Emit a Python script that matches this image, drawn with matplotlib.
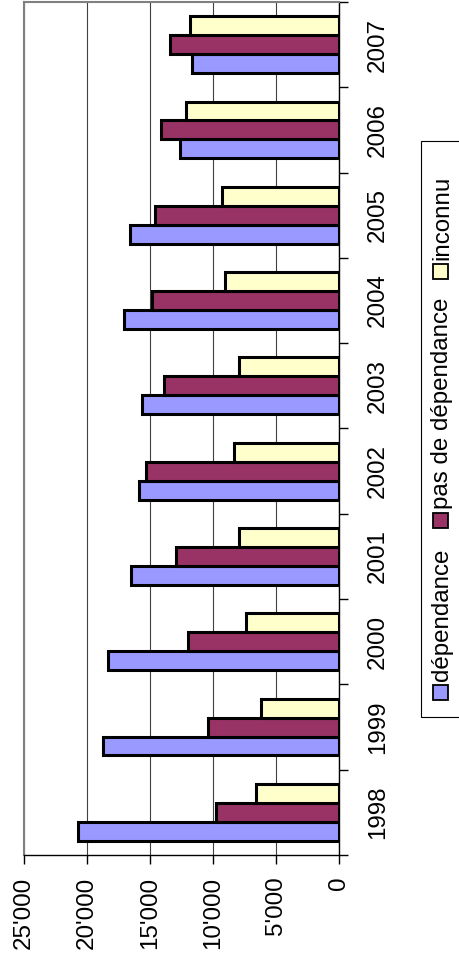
import matplotlib
matplotlib.use("Agg")
import matplotlib.pyplot as plt
from matplotlib.patches import Rectangle
import numpy as np

# --------------------------------------------------------------------------- #
# Data
# --------------------------------------------------------------------------- #
years = ["1998", "1999", "2000", "2001", "2002", "2003", "2004", "2005", "2006", "2007"]
dependance = [20700, 18700, 18300, 16500, 15850, 15600, 17050, 16550, 12650, 11650]
pas_de_dependance = [9750, 10400, 12000, 12900, 15300, 13900, 14850, 14600, 14150, 13450]
inconnu = [6600, 6200, 7350, 7950, 8350, 7900, 9050, 9250, 12150, 11850]
series_names = ["dépendance", "pas de dépendance", "inconnu"]
series_colors = ["#9999FF", "#993366", "#FFFFCC"]

W, H = 459, 966
FONT = "Liberation Sans"
FS = 17.4

fig = plt.figure(figsize=(W / 100, H / 100), dpi=100)
plt.rcParams["font.family"] = [FONT, "DejaVu Sans"]

# plot area in pixels: left 24, right 339, top 2, bottom 855
ax = fig.add_axes([24 / W, 1 - 855 / H, (339 - 24) / W, (855 - 2) / H])

y = np.arange(len(years))
bh = 1 / 4.5
for k, (vals, col) in enumerate(zip([dependance, pas_de_dependance, inconnu], series_colors)):
    ax.barh(y + (k - 1) * bh, vals, height=bh, color=col, edgecolor="black",
            linewidth=2.2, zorder=3)

ax.set_xlim(25000, 0)
ax.set_ylim(-0.5, len(years) - 0.5)

ax.set_xticks(np.arange(0, 25001, 5000))
ax.set_xticklabels([f"{v:,}".replace(",", "'") for v in range(0, 25001, 5000)],
                   rotation=90, fontsize=FS, family=FONT)
ax.grid(axis="x", color="#404040", linewidth=0.8, zorder=0)

ax.yaxis.tick_right()
ax.set_yticks(np.arange(len(years) + 1) - 0.5, minor=False)
ax.set_yticklabels([])
ax.set_yticks(y, minor=True)
ax.set_yticklabels(years, minor=True, rotation=90, va="center", fontsize=FS, family=FONT)
ax.tick_params(axis="y", which="minor", length=0, pad=20, labelright=True, labelleft=False)
ax.tick_params(axis="y", which="major", length=6.5, width=1, color="black")
ax.tick_params(axis="x", length=6.5, width=1, pad=9, color="black")

for s in ["top", "left"]:
    ax.spines[s].set_color("#808080")
    ax.spines[s].set_linewidth(1.5)
for s in ["bottom", "right"]:
    ax.spines[s].set_color("black")
    ax.spines[s].set_linewidth(1.0)

# legend, drawn rotated by hand (box runs off the right edge as in the source)
def fx(px):
    return px / W

def fy(py):
    return 1 - py / H

fig.patches.append(Rectangle((fx(421), fy(717)), fx(60), (717 - 141) / H,
                             transform=fig.transFigure, facecolor="white",
                             edgecolor="black", linewidth=0.8, zorder=1))
legend_items = [(692, 681), (520, 509), (271, 260)]  # (marker center y, text start y)
for (my, ty), name, col in zip(legend_items, series_names, series_colors):
    fig.patches.append(Rectangle((fx(433), fy(my + 7.5)), fx(15), 15 / H,
                                 transform=fig.transFigure, facecolor=col,
                                 edgecolor="black", linewidth=1.3, zorder=2))
    fig.text(fx(442), fy(ty), name, rotation=90, ha="center", va="bottom",
             fontsize=FS, family=FONT, zorder=3)

fig.savefig("out.png", dpi=100)
